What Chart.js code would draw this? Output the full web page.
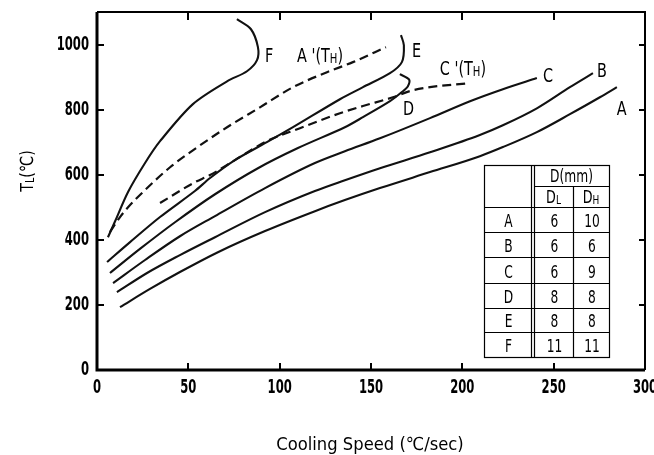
<!DOCTYPE html>
<html>
<head>
<meta charset="utf-8">
<script src="https://cdn.jsdelivr.net/npm/chart.js@4"></script>
<style>
  html, body { margin: 0; padding: 0; background: #fff; }
  canvas { display: block; }
</style>
</head>
<body>
<canvas id="chart" width="654" height="455"></canvas>
<script>
// axis ticks
const speedTicks = [0, 50, 100, 150, 200, 250, 300];
const tempTicks = [0, 200, 400, 600, 800, 1000];

// solid curves (cooling speed, T_L)
const curveA_speed = [12.6, 29.0, 45.4, 66.2, 92.0, 119.3, 135.7, 154.9, 182.3, 209.6, 222.2, 240.8, 258.9, 275.3, 284.6];
const curveA_temp = [193, 249, 301, 362, 427, 488, 522, 559, 608, 657, 685, 731, 786, 838, 869];

const curveB_speed = [10.9, 27.4, 45.4, 64.6, 92.0, 119.3, 135.7, 154.9, 182.3, 209.6, 222.2, 240.8, 258.9, 271.5];
const curveB_temp = [239, 298, 353, 408, 485, 550, 583, 620, 669, 722, 752, 804, 869, 912];

const curveC_speed = [8.8, 26.3, 45.4, 64.6, 92.0, 119.3, 135.7, 154.9, 182.3, 204.2, 222.2, 240.8];
const curveC_temp = [267, 338, 411, 473, 559, 636, 672, 712, 774, 826, 863, 897];

const curveD_speed = [7.1, 23.5, 42.7, 64.6, 88.1, 110.0, 135.7, 145.6, 160.4, 166.9, 170.2, 170.8, 165.8];
const curveD_temp = [298, 372, 454, 540, 620, 682, 746, 777, 826, 854, 872, 893, 909];

const curveE_speed = [5.5, 18.1, 34.5, 53.6, 61.9, 75.5, 93.0, 107.3, 133.0, 145.6, 160.4, 166.9, 168.0, 166.4];
const curveE_temp = [332, 393, 470, 550, 590, 645, 700, 746, 832, 869, 912, 946, 998, 1029];

const curveF_speed = [6.0, 9.9, 17.0, 26.3, 34.5, 52.5, 71.2, 82.1, 87.6, 88.1, 84.3, 76.6];
const curveF_temp = [408, 457, 547, 636, 703, 817, 887, 918, 952, 992, 1047, 1078];

// dashed curves T_H
const curveA2_speed = [7.1, 12.6, 17.0, 26.3, 40.0, 52.5, 71.2, 89.2, 107.3, 125.9, 140.1, 158.2];
const curveA2_temp = [424, 470, 500, 553, 623, 675, 746, 807, 869, 915, 946, 992];

const curveC2_speed = [34.5, 53.6, 61.9, 75.5, 93.0, 111.1, 133.0, 145.6, 162.0, 171.3, 182.3, 203.1];
const curveC2_temp = [513, 577, 599, 645, 703, 743, 789, 811, 838, 857, 869, 881];

// inset table
const tableNames = ['A', 'B', 'C', 'D', 'E', 'F'];
const tableDL = [6, 6, 6, 8, 8, 11];
const tableDH = [10, 6, 9, 8, 8, 11];

// curve labels: [runs, speed, temp] (left / baseline anchor)
const curveLabels = [
  [[['F']], 92.0, 946],
  [[["A '(T"], ['H', true], [')']], 109.5, 946],
  [[['E']], 172.4, 961],
  [[["C '(T"], ['H', true], [')']], 187.7, 906],
  [[['D']], 167.5, 783],
  [[['C']], 244.1, 884],
  [[['B']], 273.7, 900],
  [[['A']], 284.6, 783],
];

function curve(xs, ys, opts = {}) {
  return {
    data: xs.map((v, i) => ({ x: v, y: ys[i] })),
    showLine: true,
    borderColor: '#111',
    borderWidth: opts.dashed ? 2.2 : 2.1,
    borderDash: opts.dashed ? [9, 5] : [],
    pointRadius: 0,
    tension: 0.3,
    cubicInterpolationMode: opts.monotone ? 'monotone' : 'default',
    fill: false,
  };
}

// draws a run of text pieces, squeezed horizontally by sx; small pieces are subscripts
function drawRuns(ctx, runs, px, py, size, sx, align) {
  ctx.save();
  ctx.textBaseline = 'alphabetic';
  ctx.textAlign = 'left';
  const fontFor = (small) => `${small ? Math.round(size * 0.68) : size}px "DejaVu Sans"`;
  let total = 0;
  runs.forEach(([t, small]) => { ctx.font = fontFor(small); total += ctx.measureText(t).width * sx; });
  let left = px;
  if (align === 'center') left = px - total / 2;
  if (align === 'right') left = px - total;
  runs.forEach(([t, small]) => {
    ctx.font = fontFor(small);
    ctx.save();
    ctx.translate(left, py + (small ? 1 : 0));
    ctx.scale(sx, 1);
    ctx.fillText(t, 0, 0);
    ctx.restore();
    left += ctx.measureText(t).width * sx;
  });
  ctx.restore();
  return total;
}

function drawNumber(ctx, text, px, py, align) {
  ctx.save();
  ctx.font = 'bold 20px "DejaVu Sans"';
  ctx.textBaseline = 'middle';
  ctx.textAlign = 'left';
  const sx = 0.58;
  const w = ctx.measureText(text).width * sx;
  let left = align === 'right' ? px - w : px - w / 2;
  ctx.translate(left, py);
  ctx.scale(sx, 1);
  ctx.fillText(text, 0, 0);
  ctx.restore();
}

const decorations = {
  id: 'decorations',
  afterDraw(chart) {
    const { ctx, chartArea: a, scales: { x, y } } = chart;
    ctx.save();
    ctx.strokeStyle = '#000';
    ctx.fillStyle = '#000';

    // frame
    ctx.lineWidth = 2;
    ctx.beginPath();
    ctx.moveTo(a.left, a.top); ctx.lineTo(a.right, a.top); ctx.lineTo(a.right, a.bottom);
    ctx.stroke();
    ctx.lineWidth = 3;
    ctx.beginPath();
    ctx.moveTo(a.left, a.top); ctx.lineTo(a.left, a.bottom); ctx.lineTo(a.right, a.bottom);
    ctx.stroke();

    // inward ticks
    ctx.lineWidth = 2;
    speedTicks.slice(1, -1).forEach((v) => {
      const px = Math.round(x.getPixelForValue(v));
      ctx.beginPath();
      ctx.moveTo(px, a.bottom); ctx.lineTo(px, a.bottom - 7);
      ctx.moveTo(px, a.top); ctx.lineTo(px, a.top + 8);
      ctx.stroke();
    });
    tempTicks.slice(1).forEach((v) => {
      const py = Math.round(y.getPixelForValue(v));
      ctx.beginPath();
      ctx.moveTo(a.left, py); ctx.lineTo(a.left + 7, py);
      ctx.moveTo(a.right, py); ctx.lineTo(a.right - 6, py);
      ctx.stroke();
    });

    // tick labels
    speedTicks.forEach((v) => drawNumber(ctx, String(v), x.getPixelForValue(v), a.bottom + 18, 'center'));
    tempTicks.forEach((v) => drawNumber(ctx, String(v), a.left - 8, y.getPixelForValue(v), 'right'));

    // axis titles
    drawRuns(ctx, [['Cooling Speed (\u2103/sec)']], 370, 450, 18, 0.91, 'center');
    ctx.save();
    ctx.translate(33, 171);
    ctx.rotate(-Math.PI / 2);
    drawRuns(ctx, [['T'], ['L', true], ['(\u2103)']], 0, 0, 18, 0.8, 'center');
    ctx.restore();

    // curve labels
    curveLabels.forEach(([runs, sx, sy]) => {
      drawRuns(ctx, runs, x.getPixelForValue(sx), y.getPixelForValue(sy), 20, 0.72, 'left');
    });

    // inset table
    const cols = [484, 531, 534, 573, 609];
    const rows = [165, 186, 207, 232, 257, 283, 308, 332, 357];
    ctx.fillStyle = '#fff';
    ctx.fillRect(cols[0], rows[0], cols[4] - cols[0], rows[8] - rows[0]);
    ctx.fillStyle = '#000';
    ctx.lineWidth = 1.2;
    ctx.strokeRect(cols[0] + 0.5, rows[0] + 0.5, cols[4] - cols[0], rows[8] - rows[0]);
    ctx.beginPath();
    [cols[1], cols[2]].forEach((cx) => { ctx.moveTo(cx + 0.5, rows[0]); ctx.lineTo(cx + 0.5, rows[8]); });
    ctx.moveTo(cols[3] + 0.5, rows[1]); ctx.lineTo(cols[3] + 0.5, rows[8]);
    ctx.moveTo(cols[2], rows[1] + 0.5); ctx.lineTo(cols[4], rows[1] + 0.5);
    rows.slice(2, 8).forEach((ry) => { ctx.moveTo(cols[0], ry + 0.5); ctx.lineTo(cols[4], ry + 0.5); });
    ctx.stroke();

    drawRuns(ctx, [['D(mm)']], (cols[2] + cols[4]) / 2, rows[1] - 4, 17, 0.72, 'center');
    drawRuns(ctx, [['D'], ['L', true]], (cols[2] + cols[3]) / 2, rows[2] - 4, 17, 0.75, 'center');
    drawRuns(ctx, [['D'], ['H', true]], (cols[3] + cols[4]) / 2, rows[2] - 4, 17, 0.75, 'center');
    tableNames.forEach((name, i) => {
      const base = rows[i + 3] - 5;
      drawRuns(ctx, [[name]], (cols[0] + cols[1]) / 2 + 1, base, 17, 0.72, 'center');
      drawRuns(ctx, [[String(tableDL[i])]], (cols[2] + cols[3]) / 2 + 1, base, 17, 0.72, 'center');
      drawRuns(ctx, [[String(tableDH[i])]], (cols[3] + cols[4]) / 2 + 1, base, 17, 0.72, 'center');
    });
    ctx.restore();
  },
};

new Chart(document.querySelector('#chart'), {
  type: 'scatter',
  data: {
    datasets: [
      curve(curveA_speed, curveA_temp, { monotone: true }),
      curve(curveB_speed, curveB_temp, { monotone: true }),
      curve(curveC_speed, curveC_temp, { monotone: true }),
      curve(curveD_speed, curveD_temp),
      curve(curveE_speed, curveE_temp),
      curve(curveF_speed, curveF_temp),
      curve(curveA2_speed, curveA2_temp, { dashed: true, monotone: true }),
      curve(curveC2_speed, curveC2_temp, { dashed: true, monotone: true }),
    ],
  },
  options: {
    responsive: false,
    animation: false,
    layout: { padding: { top: 12, right: 9, left: 0, bottom: 0 } },
    plugins: { legend: { display: false }, tooltip: { enabled: false } },
    scales: {
      x: {
        type: 'linear', min: 0, max: 300,
        grid: { display: false }, border: { display: false }, ticks: { display: false },
        afterFit: (s) => { s.height = 85; },
      },
      y: {
        type: 'linear', min: 0, max: 1100,
        grid: { display: false }, border: { display: false }, ticks: { display: false },
        afterFit: (s) => { s.width = 97; },
      },
    },
  },
  plugins: [decorations],
});
</script>
</body>
</html>
